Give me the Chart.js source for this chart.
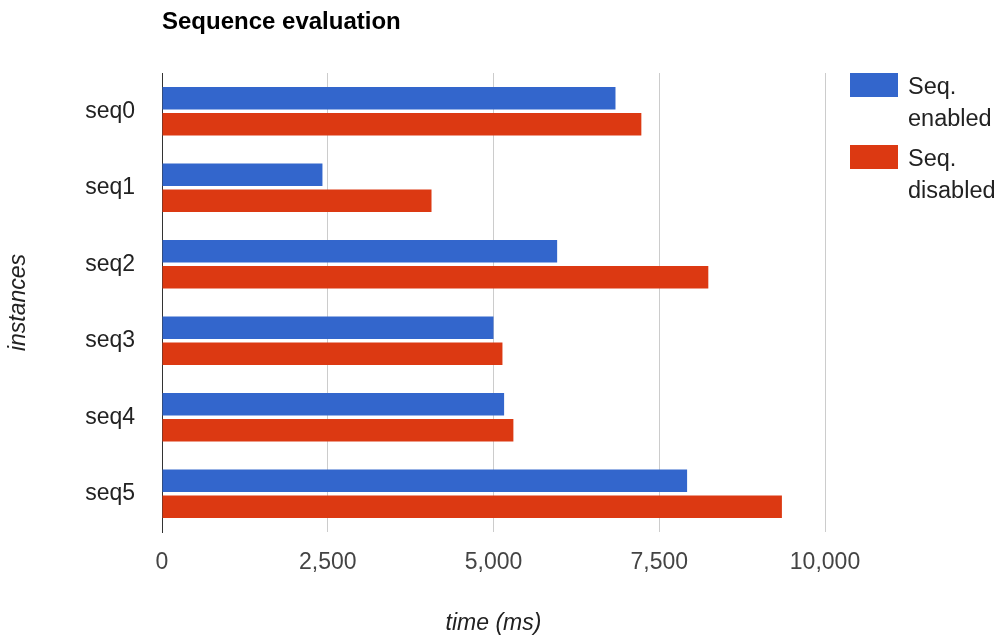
<!DOCTYPE html>
<html><head><meta charset="utf-8">
<script src="https://cdn.jsdelivr.net/npm/chart.js@4"></script>
<style>html,body{margin:0;padding:0;background:#fff}</style>
</head><body>
<canvas id="c" width="1004" height="637" style="width:1004px;height:637px;display:block"></canvas>
<script>
const categories = ['seq0', 'seq1', 'seq2', 'seq3', 'seq4', 'seq5'];
const seqEnabled = [6840, 2420, 5960, 5000, 5160, 7920];
const seqDisabled = [7230, 4065, 8240, 5135, 5300, 9350];
const seriesLabels = [['Seq.', 'enabled'], ['Seq.', 'disabled']];
const seriesColors = ['#3366cc', '#dc3912'];
const xTickValues = [0, 2500, 5000, 7500, 10000];
const chartTitle = 'Sequence evaluation';
const xTitle = 'time (ms)';
const yTitle = 'instances';

const FONT = '"Liberation Sans", Arial, sans-serif';

const overlay = {
  id: 'overlay',
  afterDraw(chart) {
    const ctx = chart.ctx;
    ctx.save();
    ctx.fillStyle = '#000';
    ctx.font = 'bold 24px ' + FONT;
    ctx.textBaseline = 'middle';
    ctx.textAlign = 'left';
    ctx.fillText(chartTitle, 162, 22);
    // legend
    const x0 = 850, boxW = 48, boxH = 24;
    chart.data.datasets.forEach((ds, i) => {
      const top = 73 + i * 72;
      ctx.fillStyle = ds.backgroundColor;
      ctx.fillRect(x0, top, boxW, boxH);
      ctx.fillStyle = '#222';
      ctx.font = '23.5px ' + FONT;
      ctx.textBaseline = 'alphabetic';
      seriesLabels[i].forEach((line, j) => {
        ctx.fillText(line, 908, top + 21 + j * 32);
      });
    });
    ctx.restore();
  }
};

new Chart(document.getElementById('c'), {
  type: 'bar',
  data: {
    labels: categories,
    datasets: [
      { label: seriesLabels[0].join(' '), data: seqEnabled, backgroundColor: seriesColors[0] },
      { label: seriesLabels[1].join(' '), data: seqDisabled, backgroundColor: seriesColors[1] }
    ]
  },
  options: {
    indexAxis: 'y',
    responsive: false,
    animation: false,
    devicePixelRatio: 1,
    categoryPercentage: 0.68,
    barPercentage: 0.86,
    layout: { padding: { top: 73, right: 179, left: 0, bottom: 0 } },
    plugins: { legend: { display: false }, title: { display: false }, tooltip: { enabled: false } },
    scales: {
      x: {
        min: 0, max: 10000,
        afterFit(s) { s.height = 105; },
        afterBuildTicks(s) { s.ticks = xTickValues.map(v => ({ value: v })); },
        ticks: {
          color: '#444', font: { family: FONT, size: 23 }, padding: 17,
          callback: v => Number(v).toLocaleString('en-US')
        },
        grid: { drawTicks: false, color: c => (c.tick && c.tick.value === 0 ? '#333' : '#ccc'), lineWidth: 1 },
        border: { display: false },
        title: { display: true, text: xTitle, color: '#222', font: { family: FONT, size: 23, style: 'italic' }, padding: { top: 0, bottom: 0 } }
      },
      y: {
        afterFit(s) { s.width = 162; },
        ticks: { color: '#222', font: { family: FONT, size: 23 }, padding: 27 },
        grid: { display: false, drawTicks: false },
        border: { display: true, color: '#333', width: 1 },
        title: { display: true, text: yTitle, color: '#222', font: { family: FONT, size: 23, style: 'italic' }, padding: { top: 5, bottom: 0 } }
      }
    }
  },
  plugins: [overlay]
});
</script>
</body></html>
